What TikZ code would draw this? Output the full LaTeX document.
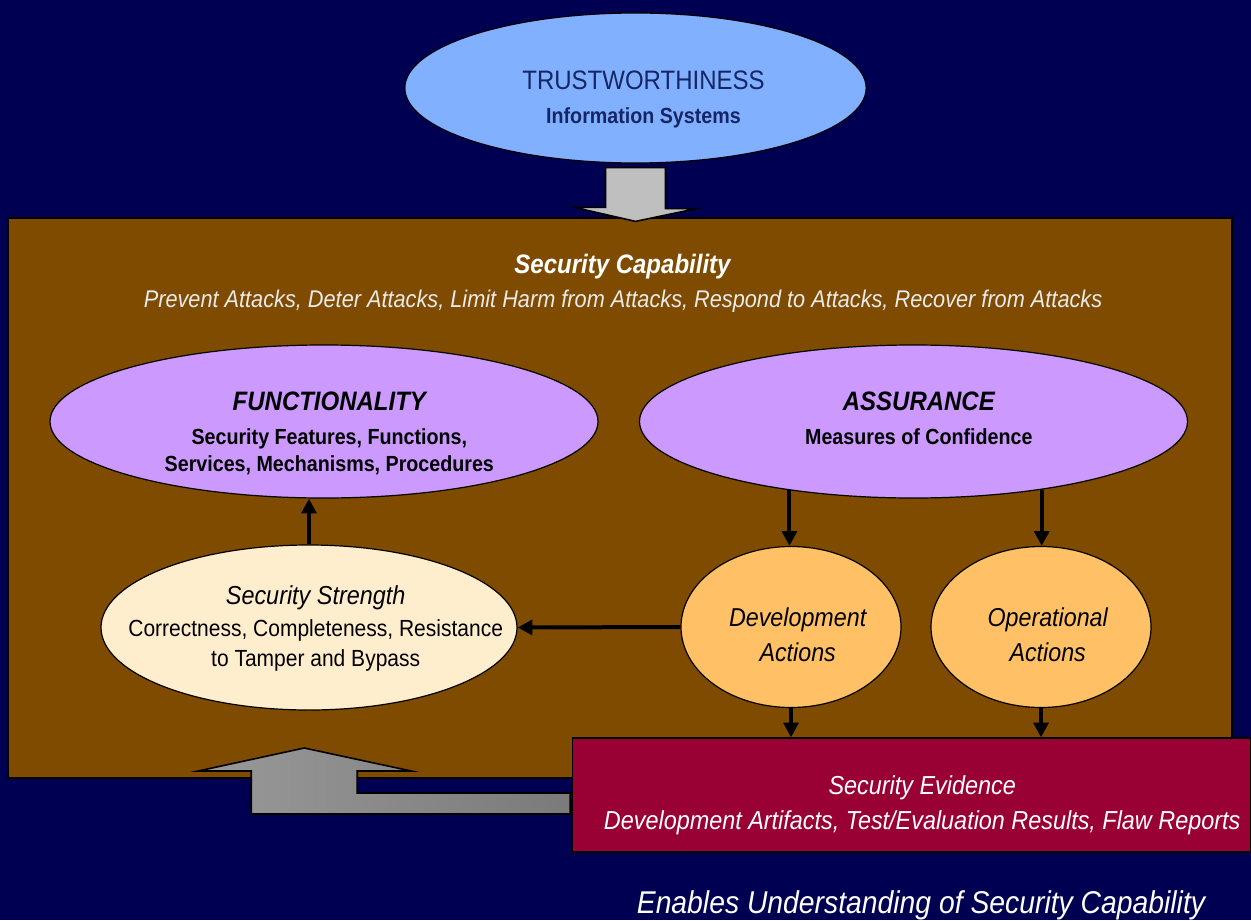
\documentclass[tikz,border=0pt]{standalone}
\usepackage{fontspec}
\setmainfont{Liberation Sans}[FakeStretch=0.9]
\usetikzlibrary{positioning, arrows.meta, shapes.geometric, calc}
\definecolor{navybg}{RGB}{0,0,82}
\definecolor{capbrown}{RGB}{127,75,0}
\definecolor{trustfill}{RGB}{128,176,255}
\definecolor{trusttext}{RGB}{22,38,100}
\definecolor{lavender}{RGB}{204,153,255}
\definecolor{cream}{RGB}{255,238,206}
\definecolor{apricot}{RGB}{255,192,102}
\definecolor{evidred}{RGB}{153,0,51}
\newcommand{\fsz}[2]{\fontsize{#1}{#2}\selectfont}

\begin{document}
\begin{tikzpicture}[x=0.75pt,y=-0.75pt,ell/.style={ellipse,draw=black,line width=0.9pt,inner sep=0pt},lbl/.style={align=center,text=black,inner sep=0pt},box/.style={draw=black,line width=0.9pt,inner sep=0pt},white/.style={text=white,align=center,inner sep=0pt},arrow/.style={line width=3pt,-{Triangle[length=11pt,width=11pt]}},blockarr/.style={draw=black,line width=1.2pt,line join=miter}]
\fill[navybg] (0,0) rectangle (1251,920);
\node[ell,fill=trustfill,minimum width=346pt,minimum height=112.5pt,label={[lbl,text=trusttext,xshift=6pt,yshift=-8.5pt,font=\fsz{16}{26}]center:{\fsz{20}{26}TRUSTWORTHINESS\\\bfseries\fsz{16.4}{26}Information Systems}}] (trust) at (635.5,88) {};
\node[box,fill=capbrown,minimum width=918pt,minimum height=420pt] (cap) at (620,498) {};
\draw[blockarr,fill=black!25] ($(trust.south)+(-30,4)$) -- ++(60,0) -- ++(0,41) -- ++(31,0) -- ($(trust.south|-cap.north)+(0,4)$) -- ++(-61,-14) -- ++(31,0) -- cycle;
\node[white] (captitle) at (622.5,266.5) {\bfseries\itshape\fsz{20}{24}Security Capability};
\node[white,text=white!92!black] (capsub) at (623,301) {\itshape\fsz{18.1}{22}Prevent Attacks, Deter Attacks, Limit Harm from Attacks, Respond to Attacks, Recover from Attacks};
\node[ell,fill=lavender,minimum width=411pt,minimum height=114.75pt,label={[lbl,xshift=4pt,yshift=-9pt,font=\fsz{16.4}{20.5}]center:{\bfseries\itshape\fsz{20}{24}FUNCTIONALITY\\[5pt]\bfseries\fsz{16.4}{20.5}Security Features, Functions,\\\bfseries\fsz{16.4}{20.5}Services, Mechanisms, Procedures}}] (func) at (324,421.5) {};
\node[ell,fill=lavender,minimum width=411pt,minimum height=114.75pt,label={[lbl,xshift=4pt,yshift=2.5pt,font=\fsz{16.4}{25.5}]center:{\bfseries\itshape\fsz{20}{24}ASSURANCE\\\bfseries\fsz{16.4}{20.5}Measures of Confidence}}] (assur) at (913.5,421.5) {};
\node[ell,fill=cream,minimum width=312pt,minimum height=123.75pt,label={[lbl,xshift=5pt,yshift=-0.5pt,font=\fsz{17.5}{22.5}]center:{\itshape\fsz{19.5}{24}Security Strength\\[1.5pt]\fsz{17.5}{22.5}Correctness, Completeness, Resistance\\\fsz{17.5}{22.5}to Tamper and Bypass}}] (strength) at (309,627.5) {};
\node[ell,fill=apricot,minimum width=165pt,minimum height=120.75pt,label={[lbl,xshift=5pt,yshift=-5.5pt,font=\fsz{19.4}{26.3}]center:{\itshape\fsz{19.4}{26}Development\\\itshape\fsz{19.4}{26}Actions}}] (devact) at (791,627) {};
\node[ell,fill=apricot,minimum width=165pt,minimum height=120.75pt,label={[lbl,xshift=5pt,yshift=-5.5pt,font=\fsz{19.4}{26.3}]center:{\itshape\fsz{19.4}{26}Operational\\\itshape\fsz{19.4}{26}Actions}}] (opact) at (1041,627) {};
\node[box,fill=evidred,minimum width=508pt,minimum height=85.5pt,label={[white,xshift=8pt,yshift=-7.8pt,font=\fsz{19.5}{26}]center:{\itshape\fsz{19.5}{26}Security Evidence\\\itshape\fsz{19.5}{26}Development Artifacts, Test/Evaluation Results, Flaw Reports}}] (evid) at (911.5,795) {};
\draw[blockarr,left color=black!40,middle color=black!27,right color=black!52] ($(evid.west)+(-2,-2)$) -- ++(-213,0) -- ++(0,-22) -- ++(54,0) -- ++(-107,-23) -- ++(-106,23) -- ++(53,0) -- ++(0,43) -- ($(evid.west)+(-2,19)$) -- cycle;
\draw[arrow] (strength.north) -- (strength.north|-func.south);
\draw[arrow] (assur.209.7) -- (assur.209.7|-devact.north);
\draw[arrow] (assur.332) -- (assur.332|-opact.north);
\draw[arrow] (devact.west) -- (strength.east);
\draw[arrow] (devact.south) -- (devact.south|-evid.north);
\draw[arrow] (opact.south) -- (opact.south|-evid.north);
\node[white] (enables) at (921,905) {\itshape\fsz{23.6}{28}Enables Understanding of Security Capability};
\end{tikzpicture}
\end{document}
